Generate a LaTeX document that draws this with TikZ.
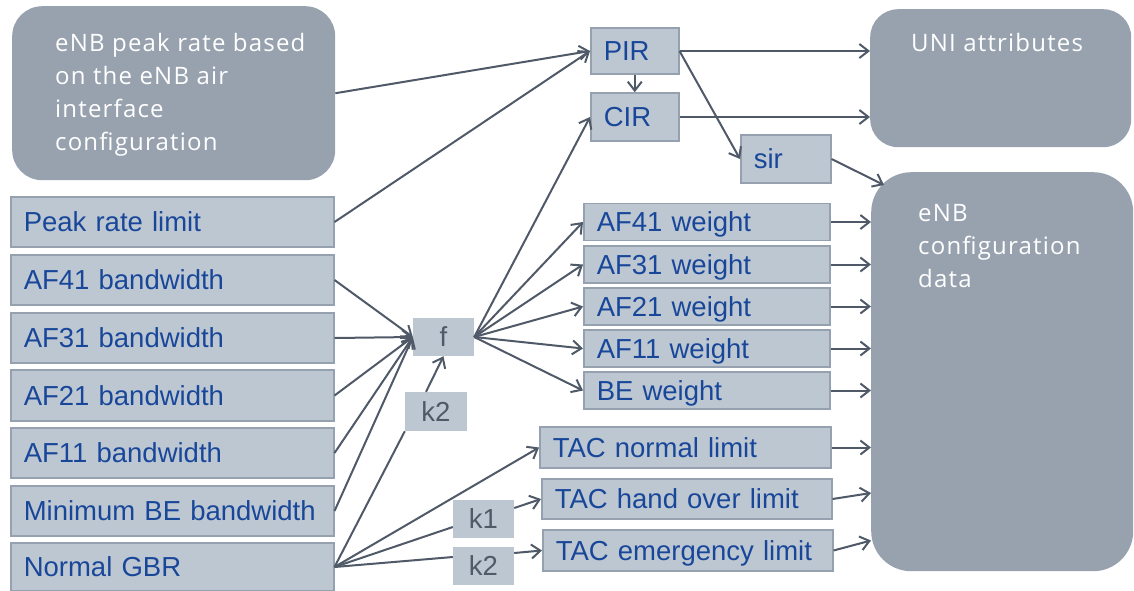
\documentclass[tikz,border=0pt]{standalone}
\usepackage{fontspec}
\setmainfont{Liberation Sans}
\newfontfamily\purefont{Open Sans}[LetterSpace=5.0]
\usetikzlibrary{arrows.meta,calc}

\definecolor{bigfill}{HTML}{98A2AE}
\definecolor{pfill}{HTML}{BDC7D2}
\definecolor{pborder}{HTML}{95A1AE}
\definecolor{pblue}{HTML}{18479A}
\definecolor{kgrey}{HTML}{505A66}
\definecolor{arrowc}{HTML}{4F5967}

\begin{document}
\begin{tikzpicture}[x=1pt,y=-1pt,
  big/.style={fill=bigfill, draw=none, anchor=north west, inner sep=0pt},
  bigtext/.style={font=\purefont\fontsize{24}{33}\selectfont, text=white,
    align=left, inner sep=0pt, anchor=north west},
  param/.style={draw=pborder, fill=pfill, line width=1.5pt, text=pblue,
    font=\fontsize{27.5}{32}\selectfont, inner xsep=13pt, inner ysep=0pt,
    align=left, anchor=west, text height=22pt, text depth=3pt},
  factor/.style={fill=pfill, text=kgrey, font=\fontsize{27.5}{32}\selectfont,
    inner sep=0pt, anchor=center, text height=22pt, text depth=3pt},
  conn/.style={line width=2pt, draw=arrowc},
  arr/.style={conn, -{Straight Barb[length=9pt,width=14pt]}}]

\useasboundingbox (0,0) rectangle (1134,590);

% large grey blocks
\node[big, rounded corners=30pt, minimum width=323pt, minimum height=174pt] (enbpeak) at (12,6) {};
\node[bigtext] (enbpeaklbl) at (55,33.5) {eNB peak rate based\\on the eNB air\\interface\\configuration};
\node[big, rounded corners=28pt, minimum width=261pt, minimum height=138pt] (uni) at (870,9) {};
\node[bigtext] (unilbl) at (911,33.5) {UNI attributes};
\node[big, rounded corners=40pt, minimum width=262pt, minimum height=399pt] (enbcfg) at (871,172) {};
\node[bigtext] (enbcfglbl) at (918,204) {eNB\\configuration\\data};

% input parameters
\node[param, text width=297pt, minimum height=50pt] (peak)   at (10,222)   {Peak rate limit};
\node[param, text width=297pt, minimum height=50pt] (af41bw) at (10,280)   {AF41 bandwidth};
\node[param, text width=297pt, minimum height=50pt] (af31bw) at (10,338)   {AF31 bandwidth};
\node[param, text width=297pt, minimum height=51pt] (af21bw) at (10,395.5) {AF21 bandwidth};
\node[param, text width=297pt, minimum height=50pt] (af11bw) at (10,453)   {AF11 bandwidth};
\node[param, text width=297pt, minimum height=50pt] (minbe)  at (10,511)   {Minimum BE bandwidth};
\node[param, text width=297pt, minimum height=48pt] (gbr)    at (10,567)   {Normal GBR};

% rate outputs
\node[param, text width=62pt, minimum height=46pt] (pir) at (590,51)  {PIR};
\node[param, text width=62pt, minimum height=48pt] (cir) at (590,117) {CIR};
\node[param, text width=64pt, minimum height=48pt] (sir) at (740,159) {sir};

% weights
\node[param, text width=220pt, minimum height=37pt] (af41w) at (583,222)   {AF41 weight};
\node[param, text width=220pt, minimum height=37pt] (af31w) at (583,264.5) {AF31 weight};
\node[param, text width=220pt, minimum height=37pt] (af21w) at (583,306.5) {AF21 weight};
\node[param, text width=220pt, minimum height=37pt] (af11w) at (583,348.5) {AF11 weight};
\node[param, text width=220pt, minimum height=37pt] (bew)   at (583,390.5) {BE weight};

% admission control limits
\node[param, text width=265pt, minimum height=41pt] (tacn) at (539,447.5) {TAC normal limit};
\node[param, text width=264pt, minimum height=40pt] (tach) at (541,499)   {TAC hand over limit};
\node[param, text width=264pt, minimum height=41pt] (tace) at (542,550.5) {TAC emergency limit};

% functions and factors
\node[factor, minimum width=61pt, minimum height=38pt] (f)   at (443.5,337) {f};
\node[factor, minimum width=62pt, minimum height=39pt] (k2a) at (436,411.5) {k2};
\node[factor, minimum width=61pt, minimum height=38pt] (k1)  at (483.5,519) {k1};
\node[factor, minimum width=61pt, minimum height=38pt] (k2b) at (483.5,566) {k2};

% connectors
\draw[arr] (enbpeak.east) -- (pir.west);
\draw[arr] (peak.east) -- (pir.west);
\draw[arr] (pir.south) -- (cir.north);
\draw[arr] (pir.east) -- (pir.east -| uni.west);
\draw[arr] (cir.east) -- (cir.east -| uni.west);
\draw[arr] (pir.east) -- (sir.west);
\draw[arr] (sir.east) -- ($(enbcfg.north west)+(13,13)$);

\foreach \n in {af41bw,af31bw,af21bw,af11bw,minbe}
  \draw[arr] (\n.east) -- (f.west);
\draw[arr] (f.east) -- (cir.west);
\foreach \n in {af41w,af31w,af21w,af11w,bew} {
  \draw[arr] (f.east) -- (\n.west);
  \draw[arr] (\n.east) -- (\n.east -| enbcfg.west);
}

\draw[conn] (gbr.east) -- (k2a.south west);
\draw[arr] ($(k2a.north)+(-10,0)$) -- (f.south);
\draw[arr] (gbr.east) -- (tacn.west);
\draw[conn] (gbr.east) -- ($(k1.west)+(0,8)$);
\draw[conn] (gbr.east) -- ($(k2b.west)+(0,-9)$);
\draw[arr] ($(k1.east)+(0,-11)$) -- (tach.west);
\draw[arr] ($(k2b.east)+(0,-13)$) -- (tace.west);

\draw[arr] (tacn.east) -- (tacn.east -| enbcfg.west);
\draw[arr] (tach.east) -- ($(enbcfg.west |- tach.east)+(0,-6)$);
\draw[arr] (tace.east) -- ($(enbcfg.west |- tace.east)+(0,-10)$);
\end{tikzpicture}
\end{document}
